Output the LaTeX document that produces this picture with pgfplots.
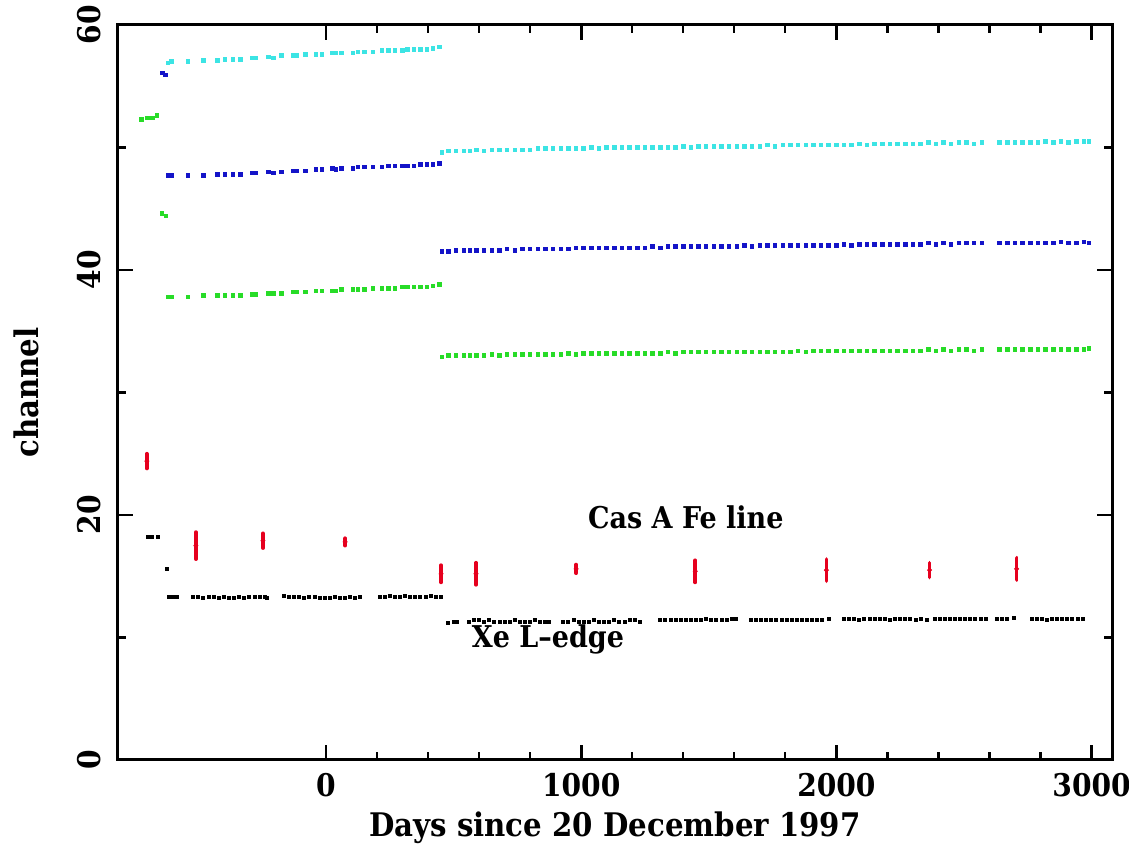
\documentclass[border=0pt]{standalone}
\usepackage{fontspec}
\setmainfont{DejaVu Serif Condensed}[BoldFont={* Bold}]
\usepackage{pgfplots}
\usepackage{pgfplotstable}
\pgfplotsset{compat=1.18}
\definecolor{cyn}{RGB}{60,228,228}
\definecolor{blu}{RGB}{20,20,200}
\definecolor{grn}{RGB}{40,220,40}
\definecolor{rd}{RGB}{230,0,30}

\pgfplotstableread{
x c b g
-620 56.9 47.7 37.8
-605 57.0 47.7 37.8
-540 57.0 47.7 37.8
-480 57.1 47.7 37.9
-425 57.1 47.8 37.9
-395 57.2 47.8 37.9
-365 57.2 47.8 37.9
-335 57.2 47.8 37.9
-290 57.3 47.9 38.0
-275 57.3 47.9 38.0
-225 57.4 48.0 38.1
-205 57.3 47.9 38.1
-175 57.5 48.0 38.1
-130 57.5 48.1 38.2
-115 57.5 48.1 38.2
-80 57.6 48.1 38.2
-40 57.6 48.2 38.3
-15 57.6 48.2 38.3
25 57.7 48.3 38.3
40 57.7 48.2 38.3
60 57.7 48.3 38.4
105 57.7 48.3 38.4
125 57.8 48.4 38.4
150 57.8 48.4 38.4
185 57.8 48.4 38.5
220 57.9 48.4 38.5
245 57.9 48.5 38.5
270 57.9 48.5 38.5
300 57.9 48.5 38.6
320 58.0 48.5 38.6
345 58.0 48.5 38.6
370 58.0 48.6 38.6
395 58.0 48.6 38.6
420 58.1 48.6 38.7
445 58.2 48.7 38.8
}\epochone

\pgfplotstableread{
x c b g
455 49.6 41.5 32.9
480 49.7 41.5 33.0
510 49.7 41.6 33.0
540 49.7 41.6 33.0
565 49.7 41.6 33.0
590 49.8 41.6 33.0
620 49.7 41.6 33.0
650 49.8 41.6 33.1
680 49.8 41.6 33.0
710 49.8 41.7 33.1
740 49.8 41.6 33.1
770 49.8 41.7 33.1
800 49.8 41.7 33.1
830 49.9 41.7 33.1
860 49.9 41.7 33.1
890 49.9 41.7 33.1
920 49.9 41.7 33.1
950 49.9 41.7 33.2
980 49.9 41.8 33.1
1010 49.9 41.8 33.2
1040 50.0 41.8 33.2
1070 49.9 41.8 33.2
1100 50.0 41.8 33.2
1130 50.0 41.8 33.2
1160 50.0 41.8 33.2
1190 50.0 41.8 33.2
1220 50.0 41.8 33.2
1250 50.0 41.8 33.2
1280 50.0 41.9 33.2
1310 50.0 41.8 33.2
1340 50.0 41.9 33.3
1370 50.0 41.9 33.2
1400 50.1 41.9 33.3
1430 50.0 41.9 33.3
1460 50.1 41.9 33.3
1490 50.1 41.9 33.3
1520 50.1 41.9 33.3
1550 50.1 41.9 33.3
1580 50.1 41.9 33.3
1610 50.1 41.9 33.3
1640 50.1 42.0 33.3
1670 50.1 41.9 33.3
1700 50.1 42.0 33.3
1730 50.2 42.0 33.3
1760 50.1 42.0 33.3
1790 50.2 42.0 33.3
1820 50.2 42.0 33.3
1850 50.2 42.0 33.4
1880 50.2 42.0 33.3
1910 50.2 42.0 33.4
1940 50.2 42.0 33.4
1970 50.2 42.0 33.4
2000 50.2 42.0 33.4
2030 50.2 42.1 33.4
2060 50.2 42.0 33.4
2090 50.3 42.1 33.4
2120 50.2 42.1 33.4
2150 50.3 42.1 33.4
2180 50.3 42.1 33.4
2210 50.3 42.1 33.4
2240 50.3 42.1 33.4
2270 50.3 42.1 33.4
2300 50.3 42.1 33.4
2330 50.3 42.1 33.4
2360 50.4 42.2 33.5
2390 50.3 42.1 33.4
2420 50.4 42.2 33.5
2450 50.3 42.1 33.4
2480 50.4 42.2 33.5
2510 50.4 42.2 33.5
2540 50.3 42.2 33.4
2570 50.4 42.2 33.5
2640 50.4 42.2 33.5
2670 50.4 42.2 33.5
2700 50.4 42.2 33.5
2730 50.4 42.2 33.5
2760 50.4 42.2 33.5
2790 50.4 42.2 33.5
2820 50.5 42.2 33.5
2850 50.4 42.2 33.5
2880 50.5 42.3 33.5
2910 50.4 42.2 33.5
2940 50.5 42.2 33.5
2970 50.5 42.3 33.5
2990 50.5 42.2 33.6
}\epochtwo

\pgfplotstableread{
x y e
-702 24.4 0.6
-510 17.5 1.1
-247 17.9 0.6
75 17.8 0.3
451 15.2 0.7
588 15.2 0.9
980 15.6 0.35
1447 15.4 0.9
1961 15.5 0.9
2365 15.5 0.6
2706 15.6 0.9
}\feline

\pgfplotstableread{
x y
-698 18.2
-680 18.2
-660 18.2
-624 15.6
-615 13.3
-600 13.3
-585 13.3
-520 13.3
-500 13.3
-480 13.2
-460 13.3
-440 13.3
-420 13.2
-400 13.3
-380 13.2
-360 13.2
-340 13.3
-320 13.2
-300 13.3
-280 13.3
-260 13.3
-240 13.3
-230 13.2
-165 13.4
-145 13.3
-125 13.3
-105 13.3
-85 13.2
-65 13.3
-45 13.3
-25 13.2
-5 13.2
15 13.2
35 13.3
55 13.2
75 13.2
95 13.3
115 13.2
135 13.3
210 13.3
230 13.3
250 13.4
270 13.3
290 13.3
310 13.4
330 13.3
350 13.3
370 13.3
390 13.3
410 13.4
430 13.3
450 13.3
480 11.2
500 11.3
515 11.3
560 11.3
580 11.4
600 11.4
620 11.3
640 11.4
660 11.3
680 11.3
700 11.3
720 11.3
740 11.4
760 11.3
780 11.3
800 11.3
820 11.4
840 11.3
860 11.3
875 11.3
930 11.3
950 11.3
970 11.4
990 11.3
1010 11.3
1030 11.3
1050 11.4
1070 11.3
1090 11.3
1110 11.3
1130 11.4
1150 11.3
1170 11.3
1190 11.4
1210 11.4
1230 11.3
1310 11.4
1330 11.4
1350 11.4
1370 11.4
1390 11.4
1410 11.4
1430 11.4
1450 11.4
1470 11.4
1490 11.5
1510 11.4
1530 11.4
1550 11.4
1570 11.4
1590 11.5
1605 11.5
1665 11.4
1685 11.4
1705 11.4
1725 11.4
1745 11.4
1765 11.4
1785 11.4
1805 11.4
1825 11.4
1845 11.4
1865 11.4
1885 11.4
1905 11.4
1925 11.4
1945 11.4
1970 11.5
2030 11.5
2050 11.5
2070 11.5
2090 11.4
2110 11.5
2130 11.5
2150 11.5
2170 11.5
2190 11.5
2210 11.4
2230 11.5
2250 11.5
2270 11.5
2290 11.5
2310 11.4
2330 11.5
2355 11.4
2385 11.5
2405 11.5
2425 11.5
2445 11.5
2465 11.5
2485 11.5
2505 11.5
2525 11.5
2545 11.5
2565 11.5
2585 11.5
2630 11.5
2650 11.5
2670 11.5
2695 11.6
2765 11.5
2785 11.5
2805 11.5
2825 11.4
2845 11.5
2865 11.5
2885 11.5
2905 11.5
2925 11.5
2945 11.5
2965 11.5
}\xeedge

\begin{document}
\begin{tikzpicture}
\begin{axis}[
  scale only axis,
  width=397.6pt, height=294pt,
  xmin=-815, xmax=3080,
  ymin=0, ymax=60,
  xtick={0,1000,2000,3000},
  minor x tick num=4,
  ytick={0,20,40,60},
  minor y tick num=1,
  tick align=inside,
  major tick length=6pt,
  minor tick length=3.2pt,
  axis line style={line width=1.2pt},
  every tick/.style={black, line width=1.1pt},
  every minor tick/.style={black, line width=0.9pt},
  /pgf/number format/assume math mode=true,
  /pgf/number format/1000 sep={},
  tick label style={font=\bfseries\fontsize{12.5}{15}\selectfont},
  yticklabel style={rotate=90, anchor=south, inner sep=6.5pt},
  xticklabel style={inner sep=5pt},
  label style={font=\bfseries\fontsize{13}{15}\selectfont},
  xlabel={Days since 20 December 1997},
  ylabel={channel},
  xlabel style={at={(axis description cs:0.5,-0.0925)}, anchor=center},
  ylabel style={at={(axis description cs:-0.092,0.5)}, anchor=center, rotate=0},
  clip=false,
]
\addplot[only marks, mark=square*, mark size=0.7pt, color=cyn] table[x=x,y=c]{\epochone};
\addplot[only marks, mark=square*, mark size=0.7pt, color=blu] table[x=x,y=b]{\epochone};
\addplot[only marks, mark=square*, mark size=0.7pt, color=grn] table[x=x,y=g]{\epochone};
\addplot[only marks, mark=square*, mark size=0.7pt, color=cyn] table[x=x,y=c]{\epochtwo};
\addplot[only marks, mark=square*, mark size=0.7pt, color=blu] table[x=x,y=b]{\epochtwo};
\addplot[only marks, mark=square*, mark size=0.7pt, color=grn] table[x=x,y=g]{\epochtwo};
\addplot[only marks, mark=square*, mark size=0.7pt, color=blu] coordinates {(-640,56.1) (-628,55.9)};
\addplot[only marks, mark=square*, mark size=0.7pt, color=grn] coordinates {(-722,52.3) (-700,52.4) (-680,52.4) (-662,52.6) (-643,44.6) (-627,44.4)};
\addplot[only marks, mark=square*, mark size=0.6pt, color=black] table[x=x,y=y]{\xeedge};
\addplot[only marks, mark=*, mark size=0.75pt, color=rd,
  error bars/.cd, y dir=both, y explicit,
  error bar style={line width=1.5pt, color=rd, line cap=round},
  error mark=none]
  table[x=x,y=y,y error=e]{\feline};
\node[font=\bfseries\fontsize{12}{14}\selectfont] at (axis cs:1410,19.8) {Cas A Fe line};
\node[font=\bfseries\fontsize{12}{14}\selectfont] at (axis cs:870,9.8) {Xe L--edge};
\end{axis}
\pgfresetboundingbox
\path[use as bounding box] ([xshift=-47.2pt,yshift=-35.2pt]current axis.south west) rectangle ([xshift=6.8pt,yshift=10pt]current axis.north east);
\end{tikzpicture}
\end{document}
